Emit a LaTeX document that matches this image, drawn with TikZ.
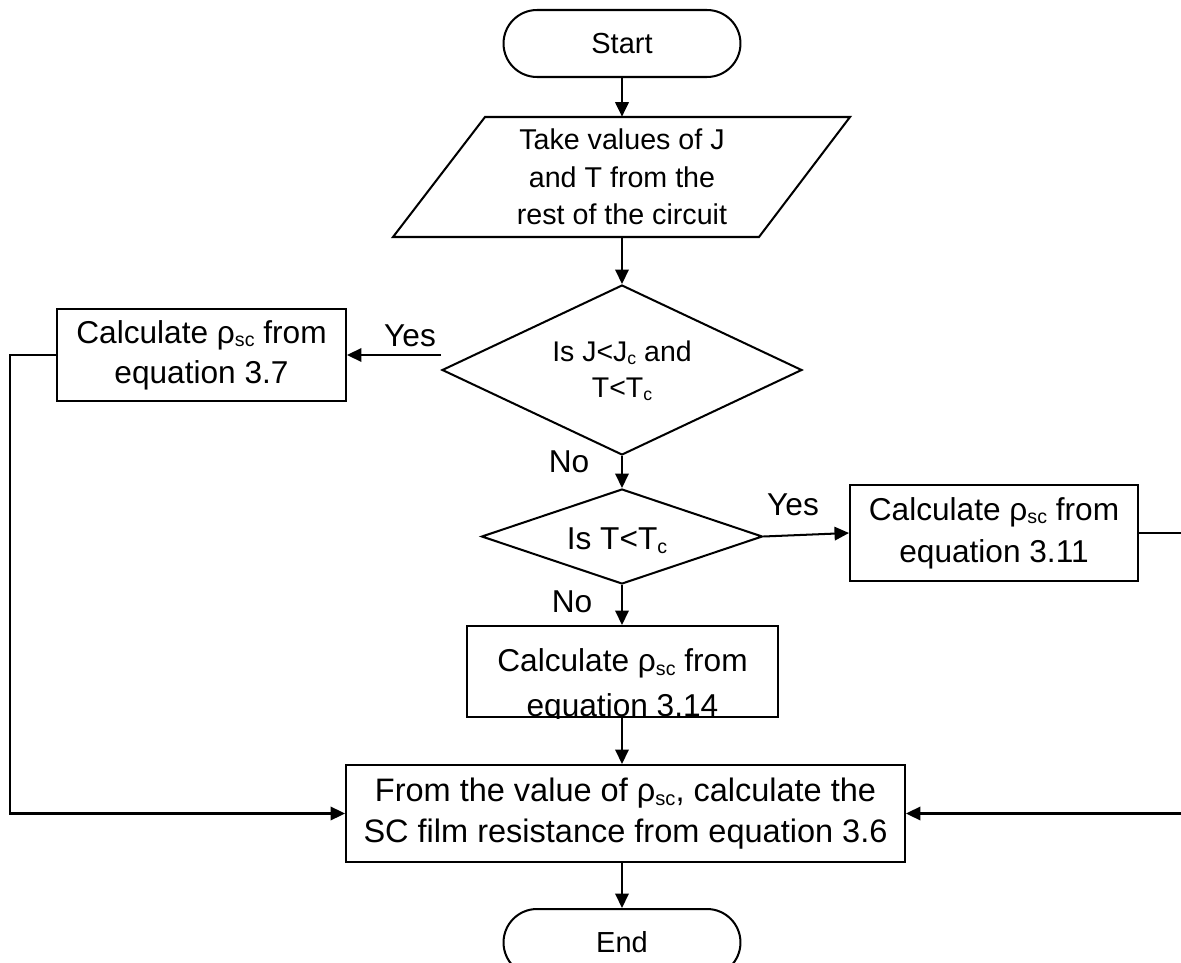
\documentclass[tikz,border=0pt]{standalone}
\usepackage{fontspec}
\setmainfont{Liberation Sans}
\usetikzlibrary{arrows.meta,shapes.geometric}
\newcommand\subs[1]{\raisebox{-0.12em}{\scalebox{0.62}{#1}}}
\tikzset{
  ln/.style={line width=1.15pt},
  arr/.style={ln,-{Triangle[length=0.29cm,width=0.27cm]}},
  term/.style={draw,ln,rectangle,rounded corners=0.67cm,minimum width=4.74cm,minimum height=1.34cm,inner sep=0pt,font=\fontsize{16.5}{19}\selectfont},
  boxnode/.style={draw,ln,rectangle,inner sep=0pt,align=center},
  dia/.style={draw,ln,diamond,inner sep=0pt},
  txt/.style={align=center,inner sep=0pt},
  lab/.style={inner sep=0pt,font=\fontsize{18}{20}\selectfont}
}
\begin{document}
\begin{tikzpicture}[x=0.02cm,y=-0.02cm]
\useasboundingbox (0,0) rectangle (1181,963);
\fill[white] (0,0) rectangle (1181,963);

% Start
\node[term] (start) at (622,43.5) {Start};

% input parallelogram
\draw[ln] (393,237) -- (485,117) -- (850,117) -- (759,237) -- cycle;
\node[txt,minimum height=2.4cm,minimum width=5.48cm,font=\fontsize{16.3}{21.3}\selectfont] (inp) at (622,177)
  {Take values of J\\and T from the\\rest of the circuit};

% decision 1
\node[dia,minimum width=7.2cm,minimum height=3.4cm] (d1) at (622,370) {};
\node[txt,font=\fontsize{16.2}{20.5}\selectfont] (t1) at (622,371) {Is J<J\subs{c} and\\T<T\subs{c}};

% box 3.7
\node[boxnode,minimum width=5.78cm,minimum height=1.84cm,font=\fontsize{18}{22.8}\selectfont] (b37) at (201.5,355)
  {Calculate ρ\subs{sc} from\\equation 3.7};

% decision 2
\node[dia,minimum width=5.62cm,minimum height=1.9cm] (d2) at (622,536.5) {};
\node[txt,font=\fontsize{18}{20}\selectfont] (t2) at (617,541) {Is T<T\subs{c}};

% box 3.11
\node[boxnode,minimum width=5.76cm,minimum height=1.92cm,font=\fontsize{18}{24}\selectfont] (b311) at (994,533)
  {Calculate ρ\subs{sc} from\\equation 3.11};

% box 3.14
\node[boxnode,minimum width=6.22cm,minimum height=1.82cm] (b314) at (622.5,671.5) {};
\begin{scope}
\clip (b314.south west) rectangle (b314.north east);
\node[txt,font=\fontsize{18}{25.6}\selectfont] (t314) at (622.5,686)
  {Calculate ρ\subs{sc} from\\equation 3.14};
\end{scope}

% main box 3.6
\node[boxnode,minimum width=11.18cm,minimum height=1.94cm,font=\fontsize{18.5}{23.5}\selectfont] (b36) at (625.5,813.5)
  {From the value of ρ\subs{sc}, calculate the\\SC film resistance from equation 3.6};

% End
\node[term] (end) at (622,942.5) {End};

% labels
\node[lab] (yes1) at (410,336) {Yes};
\node[lab] (no1) at (569,462) {No};
\node[lab] (yes2) at (793,505) {Yes};
\node[lab] (no2) at (572,602) {No};

% helper coordinates
\coordinate (lc) at (10,600);
\coordinate (rc) at (1196,700);

% connectors
\draw[arr] (start.south) -- (inp.north);
\draw[arr] (inp.south) -- (d1.north);
\draw[arr] (b37.east -| d1.west) -- (b37.east);
\draw[arr] (d1.south) -- (d2.north);
\draw[arr] (d2.east) -- (b311.west);
\draw[arr] (d2.south) -- (d2.south |- b314.north);
\draw[arr] (b314.south -| d2.south) -- (d2.south |- b36.north);
\draw[arr] (b36.south -| end.north) -- (end.north);
\draw[arr] (b37.west) -| (lc) |- (b36.west);
\draw[arr] (b311.east) -| (rc) |- (b36.east);
\end{tikzpicture}
\end{document}
